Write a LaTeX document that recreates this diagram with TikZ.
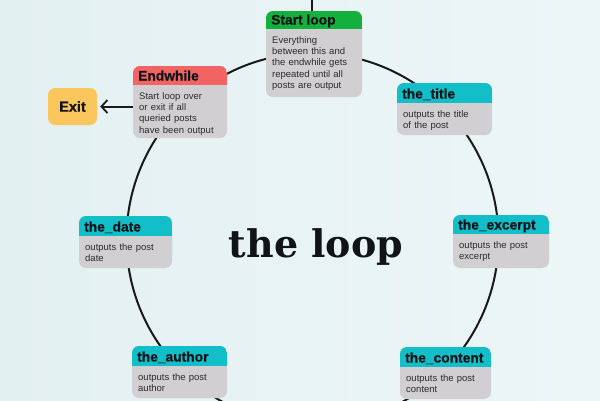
\documentclass[tikz,border=0pt]{standalone}
\usepackage{fontspec}
\setmainfont{Liberation Sans}
\newfontfamily\headfont{Liberation Sans}[BoldFeatures={FakeBold=0.6}]
\newfontfamily\titlefont{DejaVu Serif}
\usetikzlibrary{arrows.meta}
\definecolor{bgL}{HTML}{E3F0F2}
\definecolor{bgR}{HTML}{EDF6F7}
\definecolor{hgreen}{HTML}{14B03C}
\definecolor{hred}{HTML}{F26464}
\definecolor{hcyan}{HTML}{12BFC8}
\definecolor{bodygrey}{HTML}{D2CFD2}
\definecolor{exityellow}{HTML}{FBC75C}
\definecolor{bodytxt}{HTML}{2B2B2B}
\definecolor{headtxt}{HTML}{101418}
\tikzset{
  boxbody/.style={rectangle, rounded corners=7pt, fill=bodygrey, inner sep=0pt, outer sep=0pt},
  headtext/.style={font=\headfont\bfseries\fontsize{13.8}{15}\selectfont, text=headtxt, inner sep=0pt},
  bodytext/.style={font=\fontsize{9.5}{11.4}\selectfont, text=bodytxt, text width=92pt, align=left, inner sep=0pt},
  exitbox/.style={rectangle, rounded corners=7pt, fill=exityellow, inner sep=0pt,
    font=\headfont\bfseries\fontsize{14.5}{16}\selectfont, text=headtxt},
  conn/.style={draw=black!90, line width=2pt},
}
\newcommand\loopbox[9]{%
  \node[boxbody, minimum width={#4-#2}, minimum height={#5-#3}] (#1) at ({(#2+#4)/2},{(#3+#5)/2}) {};
  \begin{scope}
    \clip[rounded corners=7pt] (#1.north west) rectangle (#1.south east);
    \fill[#7] (#2,#3) rectangle (#4,#6);
  \end{scope}
  \node[headtext, anchor=base west] (#1-h) at (#2+5,#6-4.5) {#8};
  \node[bodytext, anchor=north west] (#1-b) at (#2+6,#6+7) {#9};
}
\begin{document}
\begin{tikzpicture}[x=1pt,y=-1pt]
\useasboundingbox (0,0) rectangle (600,400);
\shade[left color=bgL, right color=bgR] (0,0) rectangle (600,400);
% the loop circle
\coordinate (c) at (312.5,239);
\draw[conn] (c) circle[radius=186];
% boxes
\loopbox{start}{266}{11}{362}{97}{29}{hgreen}{Start loop}{Everything\\between this and\\the endwhile gets\\repeated until all\\posts are output}
\loopbox{endw}{133}{66}{227}{138}{85}{hred}{Endwhile}{Start loop over\\or exit if all\\queried posts\\have been output}
\loopbox{title}{397}{83}{492}{135}{103}{hcyan}{the\_title}{outputs the title\\of the post}
\loopbox{excerpt}{453}{215}{549}{268}{234}{hcyan}{the\_excerpt}{outputs the post\\excerpt}
\loopbox{date}{79}{216}{172}{268}{236}{hcyan}{the\_date}{outputs the post\\date}
\loopbox{content}{400}{347}{491}{399}{367}{hcyan}{the\_content}{outputs the post\\content}
\loopbox{author}{132}{346}{227}{398}{366}{hcyan}{the\_author}{outputs the post\\author}
% top line into start
\coordinate (top) at (312,0);
\draw[conn] (top) -- (top |- start.north);
% exit
\node[exitbox, minimum width=49pt, minimum height=37pt] (exit) at (72.5,106.5) {Exit};
\draw[conn, shorten >=3pt, -{Straight Barb[length=6pt,width=13pt,line width=1.8pt]}] (endw.west |- exit.east) -- (exit.east);
% title
\node[font=\titlefont\bfseries\fontsize{38}{42}\selectfont, text=headtxt, anchor=base, inner sep=0pt] (loop) at (316,257) {the loop};
\end{tikzpicture}
\end{document}
